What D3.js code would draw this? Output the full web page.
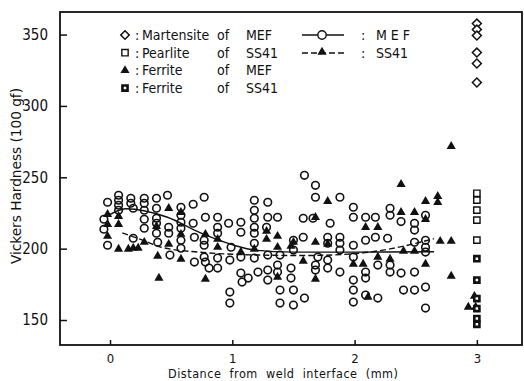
<!DOCTYPE html>
<html>
<head>
<meta charset="utf-8">
<script src="https://cdn.jsdelivr.net/npm/d3@7/dist/d3.min.js"></script>
<style>
body { margin: 0; background: #fff; }
text { font-family: "DejaVu Sans Condensed", "Liberation Sans Narrow", "DejaVu Sans", sans-serif; fill: #111; }
</style>
</head>
<body>
<svg></svg>
<script>
// hardness points, [distance (mm), HV]
var mefPoints = [
  [-0.02,232.5],[-0.05,220.6],[-0.05,213.6],[-0.02,202.4],
  [0.07,237.4],[0.07,233.9],[0.07,230.4],[0.07,226.9],
  [0.17,235.3],[0.17,231.8],[0.19,228.3],[0.19,207.3],
  [0.28,235.3],[0.28,231.8],[0.28,226.9],[0.28,220.6],[0.28,214.3],
  [0.38,235.3],[0.38,228.3],[0.38,221.3],[0.38,217.8],[0.38,210.8],[0.39,204.5],
  [0.47,237.4],[0.48,215],[0.48,210.8],[0.49,195.5],
  [0.58,229],[0.58,223.4],[0.58,218.5],[0.58,214.3],[0.58,205.9],[0.58,200.3],
  [0.68,231.1],[0.68,217.8],[0.69,208],[0.69,190.6],
  [0.77,236],[0.78,222],[0.77,205.9],[0.77,202.4],[0.77,194.1],[0.78,190.6],[0.81,186.4],
  [0.88,222],[0.88,215],[0.88,210.8],[0.88,193.4],[0.88,186.4],
  [0.97,217.8],[0.99,201],[0.98,192],[0.98,169.6],[0.98,161.9],
  [1.07,218.5],[1.07,211.5],[1.07,194.1],[1.07,182.9],[1.08,176.6],[1.13,179.4],
  [1.18,233.9],[1.18,226.9],[1.18,221.3],[1.18,215],[1.18,210.8],[1.18,203.8],[1.18,193.4],[1.21,183.6],
  [1.29,232.5],[1.29,222],[1.28,215],[1.29,195.5],[1.29,185],[1.29,178],
  [1.37,222],[1.39,195.5],[1.37,188.5],[1.37,183.6],[1.39,171],[1.39,161.9],
  [1.50,205.9],[1.50,199],[1.48,186.4],[1.48,179.4],[1.50,171],[1.50,160.5],
  [1.58,221.3],[1.58,208],[1.59,165.4],[1.59,251.4],
  [1.68,244.4],[1.68,236],[1.66,221.3],[1.70,194.1],[1.68,188.5],[1.68,185],
  [1.80,217.8],[1.78,208],[1.78,203.8],[1.78,192],[1.78,186.4],
  [1.88,236],[1.88,208],[1.88,203.8],[1.88,199],[1.88,183.6],
  [1.99,229],[1.99,222],[1.99,202.4],[1.99,194.1],[1.99,178],[1.99,171],[1.99,162.6],
  [2.09,222],[2.09,205.9],[2.09,183.6],[2.09,179.4],[2.09,167.5],
  [2.17,222],[2.17,208],[2.19,188.5],[2.19,165.4],
  [2.29,228.3],[2.29,223.4],[2.27,207.3],[2.29,188.5],[2.29,183.6],
  [2.38,182.9],[2.40,171],[2.38,219],
  [2.49,217.8],[2.49,213],[2.49,204.5],[2.49,183.6],[2.49,171],
  [2.58,223.4],[2.58,205.9],[2.58,201],[2.58,197.6],[2.58,173.1],[2.58,158.4]
];
var ss41Points = [
  [-0.02,223.4],[-0.02,216.4],[-0.02,208],
  [0.07,222],[0.07,216.4],[0.07,199],[0.15,199],[0.19,199.7],[0.23,199.7],[0.28,203.8],
  [0.38,215],[0.39,194.1],[0.40,178.7],
  [0.48,227.6],[0.48,202.4],[0.58,224.8],[0.58,209.4],[0.58,192],
  [0.78,209.4],[0.78,178],[0.88,205.9],[0.88,200.3],
  [1.07,196.9],[1.18,199],
  [1.28,211.5],[1.28,205.9],[1.37,208],[1.37,200.3],[1.37,179.4],
  [1.48,201],[1.50,203.8],[1.58,190.6],
  [1.68,221.3],[1.68,203.8],[1.68,178],
  [1.78,232.5],[1.78,202.4],
  [1.99,188.5],[2.07,188.5],[2.09,214.3],[2.19,214.3],[2.19,193.4],[2.29,192],[2.11,165.4],
  [2.38,224.8],[2.49,224.8],[2.40,197.6],[2.49,197.6],[2.38,244.4],
  [2.58,232.5],[2.58,219.9],[2.58,188.5],
  [2.68,236],[2.68,231.8],[2.70,204.5],[2.79,204.5],[2.79,180.1],[2.79,271]
];

// phase hardness at 3 mm
var martensiteMEF = [357.7, 353.5, 349.3, 337.4, 329.7, 316.4];
var pearliteSS41 = [238.8, 234, 227, 220, 206];
var ferriteMEF = [[2.98,166],[2.93,158.4],[2.99,158.4]];
var ferriteSS41 = [193, 178, 165, 158, 151, 147];

// fitted curves
var mefCurve = [[-0.02,223],[0.13,228],[0.47,222],[0.74,211],[1.01,202.5],[1.18,199],[1.5,197.6],[2.0,197.6],[2.65,197.8]];
var ss41Curve = [[0.1,211],[0.25,206.5],[0.42,201],[0.74,197.5],[1.18,195.6],[1.6,195.2],[2.0,196.5],[2.3,200],[2.65,207]];

var xTicks = [0, 1, 2, 3];
var yTicks = [150, 200, 250, 300, 350];

var svg = d3.select("svg")
            .attr("width", 524)
            .attr("height", 381);

var margin = {top: 12, right: 2, bottom: 36, left: 60},
    width = svg.attr("width") - margin.left - margin.right,
    height = svg.attr("height") - margin.top - margin.bottom,
    g = svg.append("g").attr("transform", "translate(" + margin.left + "," + margin.top + ")");

//define scales
var x = d3.scaleLinear().domain([-0.409, 3.369]).range([0, width]),
    y = d3.scaleLinear().domain([132.5, 365.8]).range([height, 0]);

var ink = "#111";

//frame
g.append("rect")
    .attr("width", width)
    .attr("height", height)
    .style("fill", "none")
    .style("stroke", ink)
    .style("stroke-width", 1.8);

//ticks pointing inwards
g.append("g")
    .attr("transform", "translate(0," + height + ")")
    .call(d3.axisBottom(x).tickValues(xTicks).tickSizeInner(-5).tickSizeOuter(0).tickPadding(9).tickFormat(d3.format("d")))
    .call(function(a) { a.select(".domain").remove(); })
    .call(function(a) { a.selectAll("text").style("font-size", "13px").attr("fill", ink); });

g.append("g")
    .call(d3.axisLeft(y).tickValues(yTicks).tickSizeInner(-7).tickSizeOuter(0).tickPadding(12))
    .call(function(a) { a.select(".domain").remove(); })
    .call(function(a) { a.selectAll("text").style("font-size", "15px").attr("fill", ink); });

g.selectAll(".tick line").style("stroke", ink).style("stroke-width", 1.5);

//axis titles
svg.append("text")
    .attr("x", 283)
    .attr("y", 378)
    .attr("text-anchor", "middle")
    .attr("textLength", 230)
    .attr("lengthAdjust", "spacing")
    .style("font-size", "12.5px")
    .style("white-space", "pre")
    .text("Distance  from  weld  interface  (mm)");

svg.append("text")
    .attr("transform", "translate(21,176) rotate(-90)")
    .attr("text-anchor", "middle")
    .attr("textLength", 176)
    .attr("lengthAdjust", "spacingAndGlyphs")
    .style("font-size", "14px")
    .text("Vickers Hardness (100 gf)");

//line generator
var line = d3.line()
    .curve(d3.curveMonotoneX)
    .x(function(d) { return x(d[0]); })
    .y(function(d) { return y(d[1]); });

g.append("path")
    .attr("d", line(mefCurve))
    .style("fill", "none")
    .style("stroke", ink)
    .style("stroke-width", 1.4);

g.append("path")
    .attr("d", line(ss41Curve))
    .style("fill", "none")
    .style("stroke", ink)
    .style("stroke-width", 1.4)
    .style("stroke-dasharray", "6,3");

//symbols
var tri = d3.symbol().type(d3.symbolTriangle).size(36)(),
    sq = d3.symbol().type(d3.symbolSquare).size(40)(),
    sqSmall = d3.symbol().type(d3.symbolSquare).size(26)();

g.selectAll(".mef")
    .data(mefPoints)
    .enter().append("circle")
    .attr("class", "mef")
    .attr("cx", function(d) { return x(d[0]); })
    .attr("cy", function(d) { return y(d[1]); })
    .attr("r", 3.8)
    .style("fill", "none")
    .style("stroke", ink)
    .style("stroke-width", 1.6);

g.selectAll(".ss41")
    .data(ss41Points.concat(ferriteMEF))
    .enter().append("path")
    .attr("class", "ss41")
    .attr("d", tri)
    .attr("transform", function(d) { return "translate(" + x(d[0]) + "," + (y(d[1]) - 1) + ")"; })
    .style("fill", ink);

g.selectAll(".mart")
    .data(martensiteMEF)
    .enter().append("path")
    .attr("class", "mart")
    .attr("d", sq)
    .attr("transform", function(d) { return "translate(" + x(3) + "," + y(d) + ") rotate(45)"; })
    .style("fill", "#fff")
    .style("stroke", ink)
    .style("stroke-width", 1.5);

g.selectAll(".pearl")
    .data(pearliteSS41)
    .enter().append("path")
    .attr("class", "pearl")
    .attr("d", sq)
    .attr("transform", function(d) { return "translate(" + x(3) + "," + y(d) + ")"; })
    .style("fill", "#fff")
    .style("stroke", ink)
    .style("stroke-width", 1.4);

g.selectAll(".fss")
    .data(ferriteSS41)
    .enter().append("path")
    .attr("class", "fss")
    .attr("d", sqSmall)
    .attr("transform", function(d) { return "translate(" + x(3) + "," + y(d) + ")"; })
    .style("fill", "#fff")
    .style("stroke", ink)
    .style("stroke-width", 2.6);

//legend
var legendRows = [
  {sym: "diamond", name: "Martensite", steel: "MEF"},
  {sym: "square", name: "Pearlite", steel: "SS41"},
  {sym: "triangle", name: "Ferrite", steel: "MEF"},
  {sym: "fsquare", name: "Ferrite", steel: "SS41"}
];

var leg = svg.append("g");
legendRows.forEach(function(r, i) {
    var cy = 35 + i * 17.7;
    var s = leg.append("path").attr("transform", "translate(125," + cy + ")" + (r.sym === "diamond" ? " rotate(45)" : ""));
    if (r.sym === "diamond") s.attr("d", d3.symbol().type(d3.symbolSquare).size(36)()).style("fill", "#fff").style("stroke", ink).style("stroke-width", 1.5);
    if (r.sym === "square") s.attr("d", sq).style("fill", "#fff").style("stroke", ink).style("stroke-width", 1.4);
    if (r.sym === "triangle") s.attr("d", tri).style("fill", ink);
    if (r.sym === "fsquare") s.attr("d", sqSmall).style("fill", "#fff").style("stroke", ink).style("stroke-width", 2.6);
    leg.append("text").attr("x", 135).attr("y", cy + 5).style("font-size", "14px").text(":");
    leg.append("text").attr("x", 142).attr("y", cy + 5).style("font-size", "14px").text(r.name);
    leg.append("text").attr("x", 217).attr("y", cy + 5).style("font-size", "14px").text("of");
    leg.append("text").attr("x", 246).attr("y", cy + 5).style("font-size", "14px").text(r.steel);
});

//curve legend
[{dash: null, sym: "circle", label: "M E F"}, {dash: "6,3", sym: "triangle", label: "SS41"}].forEach(function(r, i) {
    var cy = 35 + i * 18;
    leg.append("line").attr("x1", 302).attr("x2", 344).attr("y1", cy).attr("y2", cy)
        .style("stroke", ink).style("stroke-width", 1.4).style("stroke-dasharray", r.dash);
    if (r.sym === "circle") {
        leg.append("circle").attr("cx", 322).attr("cy", cy).attr("r", 4.2)
            .style("fill", "#fff").style("stroke", ink).style("stroke-width", 1.4);
    } else {
        leg.append("path").attr("d", tri).attr("transform", "translate(322," + (cy - 1) + ")").style("fill", ink);
    }
    leg.append("text").attr("x", 361).attr("y", cy + 5).style("font-size", "14px").text(":");
    leg.append("text").attr("x", 376).attr("y", cy + 5).style("font-size", "14px").text(r.label);
});
</script>
</body>
</html>
